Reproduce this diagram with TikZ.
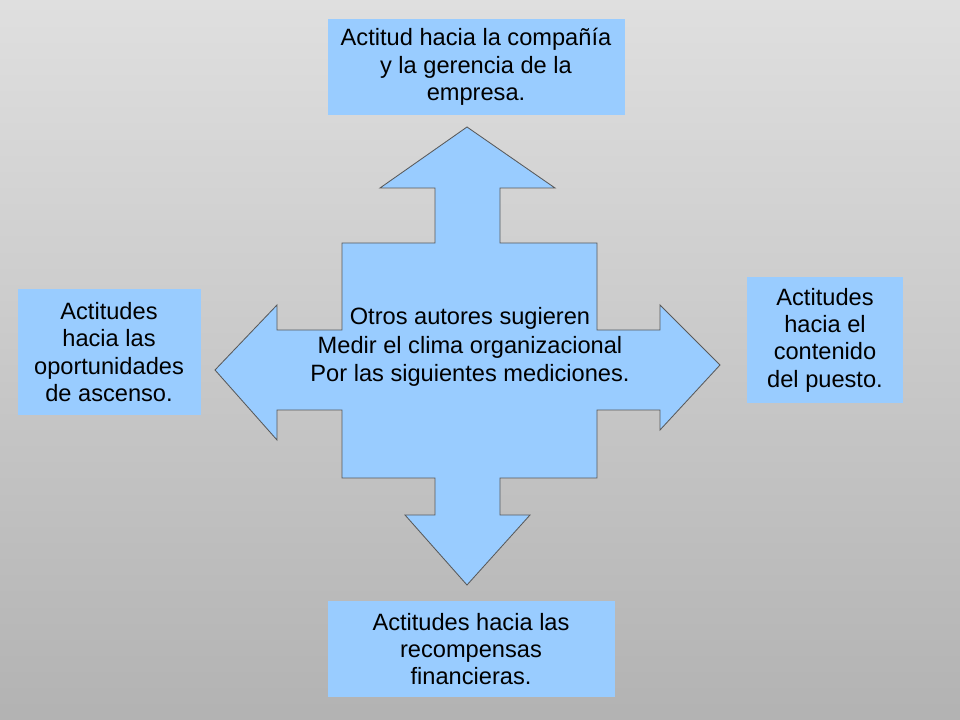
\documentclass[tikz,border=0pt]{standalone}
\usepackage{fontspec}
\setmainfont{Liberation Sans}
\usetikzlibrary{positioning}
\definecolor{boxblue}{RGB}{153,204,255}
\begin{document}
\begin{tikzpicture}[x=0.025cm,y=-0.025cm,
  box/.style={draw=boxblue, fill=boxblue, align=center, inner sep=1pt,
    font=\fontsize{16.8}{19.4}\selectfont},
  cross/.style={draw=gray!70!black, fill=boxblue, line width=0.6pt}
]
% background
\shade[top color=gray!25, bottom color=gray!60] (0,0) rectangle (960,720);
\useasboundingbox (0,0) rectangle (960,720);
% four way arrow
\draw[cross] (342,243) -- (435,243) -- (435,188) -- (380,188) -- (467,127)
  -- (555,188) -- (500,188) -- (500,243) -- (597,243) -- (597,330)
  -- (660,330) -- (660,305) -- (720,365) -- (660,430) -- (660,410)
  -- (597,410) -- (597,478) -- (500,478) -- (500,515) -- (530,515)
  -- (467,585) -- (405,515) -- (435,515) -- (435,478) -- (342,478)
  -- (342,410) -- (277,410) -- (277,440) -- (215,370) -- (277,305)
  -- (277,330) -- (342,330) -- cycle;
\node[align=center, font=\fontsize{16.8}{20}\selectfont] (centre) at (470,347)
  {Otros autores sugieren\\Medir el clima organizacional\\Por las siguientes mediciones.};
% boxes
\node[box, minimum width=296*0.025cm, minimum height=95*0.025cm] (top) at (476,67)
  {Actitud hacia la compañía\\y la gerencia de la\\empresa.};
\node[box, minimum width=182*0.025cm, minimum height=125*0.025cm] (left) at (109,352)
  {Actitudes\\hacia las\\oportunidades\\de ascenso.};
\node[box, minimum width=155*0.025cm, minimum height=125*0.025cm] (right) at (825,340)
  {Actitudes\\hacia el\\contenido\\del puesto.};
\node[box, minimum width=286*0.025cm, minimum height=95*0.025cm] (bottom) at (471,649)
  {Actitudes hacia las\\recompensas\\financieras.};
\end{tikzpicture}
\end{document}
